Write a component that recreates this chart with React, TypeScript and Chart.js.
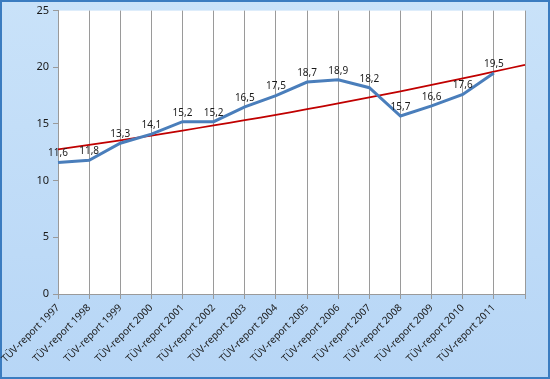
import React, { useEffect, useRef } from "react";
import { Chart, registerables } from "chart.js";

Chart.register(...registerables);

const categories = [
  "TÜV-report 1997", "TÜV-report 1998", "TÜV-report 1999", "TÜV-report 2000",
  "TÜV-report 2001", "TÜV-report 2002", "TÜV-report 2003", "TÜV-report 2004",
  "TÜV-report 2005", "TÜV-report 2006", "TÜV-report 2007", "TÜV-report 2008",
  "TÜV-report 2009", "TÜV-report 2010", "TÜV-report 2011", "",
];
const values = [11.6, 11.8, 13.3, 14.1, 15.2, 15.2, 16.5, 17.5, 18.7, 18.9, 18.2, 15.7, 16.6, 17.6, 19.5];
const trend = [12.75, 13.15, 13.56, 13.98, 14.42, 14.87, 15.33, 15.81, 16.3, 16.81, 17.34, 17.88, 18.44, 19.02, 19.61, 20.22];
const yTicks = [0, 5, 10, 15, 20, 25];

const FONT = "'Noto Sans', 'DejaVu Sans', sans-serif";

const framePlugin = {
  id: "frame",
  beforeDraw(chart: any) {
    const { ctx, width, height, chartArea } = chart;
    ctx.save();
    const g = ctx.createLinearGradient(0, 0, 0, height);
    g.addColorStop(0, "#c9e2f9");
    g.addColorStop(1, "#b7d6f6");
    ctx.fillStyle = g;
    ctx.fillRect(0, 0, width, height);
    ctx.strokeStyle = "#3b7cc0";
    ctx.lineWidth = 2;
    ctx.strokeRect(1, 1, width - 2, height - 2);
    ctx.fillStyle = "#ffffff";
    ctx.fillRect(chartArea.left, chartArea.top, chartArea.right - chartArea.left, chartArea.bottom - chartArea.top);
    ctx.restore();
  },
};

const labelPlugin = {
  id: "pointLabels",
  afterDatasetsDraw(chart: any) {
    const { ctx } = chart;
    const meta = chart.getDatasetMeta(0);
    ctx.save();
    ctx.font = `10px ${FONT}`;
    ctx.fillStyle = "#1a1a1a";
    ctx.textAlign = "center";
    ctx.textBaseline = "bottom";
    meta.data.forEach((pt: any, i: number) => {
      const txt = values[i].toFixed(1).replace(".", ",");
      ctx.fillText(txt, pt.x, pt.y - 4);
    });
    ctx.restore();
  },
};

export default function App() {
  const ref = useRef<HTMLCanvasElement>(null);
  useEffect(() => {
    document.body.style.margin = "0";
    const chart = new Chart(ref.current!, {
      type: "line",
      data: {
        labels: categories,
        datasets: [
          {
            data: values,
            borderColor: "#4a7ebb",
            borderWidth: 3,
            pointRadius: 0,
            tension: 0,
            order: 1,
          },
          {
            data: trend,
            borderColor: "#c00000",
            borderWidth: 1.75,
            pointRadius: 0,
            tension: 0.3,
            order: 2,
          },
        ],
      },
      options: {
        animation: false,
        responsive: false,
        maintainAspectRatio: false,
        layout: { padding: { left: 0, top: 9, right: 25, bottom: 0 } },
        plugins: { legend: { display: false }, tooltip: { enabled: false } },
        scales: {
          x: {
            type: "category",
            offset: false,
            grid: {
              display: true,
              color: "#9a9a9a",
              lineWidth: 1,
              tickLength: 5,
              drawOnChartArea: true,
            },
            border: { display: true, color: "#9a9a9a" },
            ticks: {
              autoSkip: false,
              minRotation: 45,
              maxRotation: 45,
              padding: 3,
              color: "#1a1a1a",
              font: { family: FONT, size: 10 },
            },
            afterFit(scale: any) {
              scale.height = 85;
            },
          },
          y: {
            min: 0,
            max: 25,
            afterBuildTicks(scale: any) {
              scale.ticks = yTicks.map((v) => ({ value: v }));
            },
            grid: {
              display: true,
              drawOnChartArea: false,
              color: "#9a9a9a",
              tickLength: 5,
            },
            border: { display: true, color: "#9a9a9a" },
            ticks: {
              padding: 4,
              color: "#1a1a1a",
              font: { family: FONT, size: 11 },
            },
            afterFit(scale: any) {
              scale.width = 58;
            },
          },
        },
      },
      plugins: [framePlugin, labelPlugin],
    });
    return () => chart.destroy();
  }, []);
  return (
    <div style={{ position: "absolute", left: 0, top: 0, width: 550, height: 379 }}>
      <canvas ref={ref} width={550} height={379} style={{ display: "block" }} />
    </div>
  );
}
